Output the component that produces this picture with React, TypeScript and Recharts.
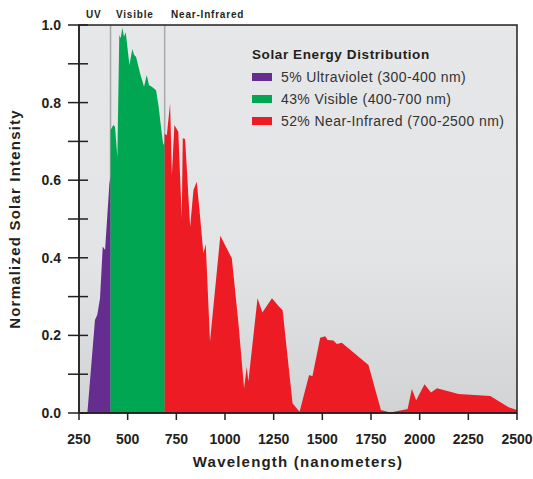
import React from 'react';
import {
  AreaChart,
  Area,
  XAxis,
  YAxis,
  CartesianGrid,
  ReferenceArea,
} from 'recharts';

// wavelengths (nm) and normalized intensity
const uvNm = [293, 332, 344, 358, 372, 384, 406, 412];
const uvVal = [0, 0.24, 0.253, 0.296, 0.429, 0.42, 0.59, 0.61];

const visNm = [412, 426, 435, 447, 457, 464, 473, 481, 490, 509, 524, 533, 543, 564, 584, 598, 610, 624, 646, 658, 670, 683, 690];
const visVal = [0.729, 0.742, 0.738, 0.66, 0.974, 0.966, 0.993, 0.97, 0.981, 0.897, 0.938, 0.923, 0.918, 0.875, 0.841, 0.871, 0.845, 0.841, 0.832, 0.794, 0.742, 0.69, 0.7];

const nirNm = [690, 701, 718, 727, 740, 760, 778, 783, 795, 821, 838, 855, 872, 889, 901, 923, 976, 1000, 1035, 1069, 1098, 1112, 1120, 1167, 1192, 1241, 1275, 1296, 1347, 1383, 1432, 1449, 1489, 1515, 1527, 1557, 1575, 1600, 1737, 1801, 1849, 1938, 1960, 1982, 2025, 2058, 2089, 2200, 2363, 2457, 2500];
const nirVal = [0.72, 0.716, 0.798, 0.613, 0.742, 0.725, 0.502, 0.708, 0.706, 0.48, 0.575, 0.596, 0.506, 0.412, 0.435, 0.184, 0.457, 0.433, 0.399, 0.231, 0.064, 0.119, 0.081, 0.296, 0.259, 0.296, 0.276, 0.265, 0.025, 0.003, 0.098, 0.095, 0.194, 0.198, 0.188, 0.187, 0.178, 0.181, 0.124, 0.008, 0.001, 0.01, 0.062, 0.033, 0.074, 0.053, 0.064, 0.049, 0.044, 0.015, 0.008];

const xTicks = [250, 500, 750, 1000, 1250, 1500, 1750, 2000, 2250, 2500];
const yTicks = [0, 0.1, 0.2, 0.3, 0.4, 0.5, 0.6, 0.7, 0.8, 0.9, 1.0];
const bandEdges = [412, 690];

const legendItems = [
  { label: '5% Ultraviolet (300-400 nm)', color: '#662d91' },
  { label: '43% Visible (400-700 nm)', color: '#00a651' },
  { label: '52% Near-Infrared (700-2500 nm)', color: '#ed1c24' },
];

// merge the three bands into one table keyed by wavelength
const buildTable = () => {
  const rows: Record<number, any> = {};
  const add = (nms: number[], vals: number[], key: string) => {
    nms.forEach((nm, i) => {
      if (!rows[nm]) rows[nm] = { nm, uv: null, vis: null, nir: null };
      rows[nm][key] = vals[i];
    });
  };
  add(uvNm, uvVal, 'uv');
  add(visNm, visVal, 'vis');
  add(nirNm, nirVal, 'nir');
  return Object.values(rows).sort((a: any, b: any) => a.nm - b.nm);
};

const data = buildTable();
const FONT = '"Liberation Sans", Arial, Helvetica, sans-serif';
const INK = '#231f20';

const YTick = (props: any) => {
  const { x, y, payload } = props;
  const major = Math.round(payload.value * 10) % 2 === 0;
  return (
    <g>
      <line x1={x - 11} x2={x + 9} y1={y} y2={y} stroke={INK} strokeWidth={1.5} />
      {major && (
        <text x={x - 18} y={y} dy={5} textAnchor="end" fill={INK} fontSize={14} fontWeight="bold" fontFamily={FONT}>
          {payload.value.toFixed(1)}
        </text>
      )}
    </g>
  );
};

export default function App() {
  return (
    <div style={{ position: 'absolute', left: 0, top: 0, width: 533, height: 479, background: '#fff' }}>
      <AreaChart width={533} height={479} data={data} margin={{ top: 25, right: 16, bottom: 0, left: 0 }}>
        <defs>
          <linearGradient id="bg" x1="0" y1="0" x2="0" y2="1">
            <stop offset="0%" stopColor="#e6e7e8" />
            <stop offset="60%" stopColor="#e3e4e6" />
            <stop offset="100%" stopColor="#d2d3d5" />
          </linearGradient>
        </defs>
        <CartesianGrid
          horizontal={false}
          vertical
          verticalValues={bandEdges}
          stroke="#a7a9ac"
          strokeWidth={1.5}
          fill="url(#bg)"
        />
        <XAxis
          type="number"
          dataKey="nm"
          domain={[250, 2500]}
          ticks={xTicks}
          allowDataOverflow
          height={66}
          tickSize={7}
          tickMargin={14}
          axisLine={{ stroke: INK, strokeWidth: 1.5 }}
          tickLine={{ stroke: INK, strokeWidth: 1.5 }}
          tick={{ fill: INK, fontSize: 14, fontWeight: 'bold', fontFamily: FONT }}
          label={{
            value: 'Wavelength (nanometers)',
            position: 'insideBottom',
            offset: 12,
            style: { fill: INK, fontSize: 15, fontWeight: 'bold', fontFamily: FONT, letterSpacing: 1.2 },
          }}
        />
        <YAxis
          type="number"
          domain={[0, 1]}
          ticks={yTicks}
          width={79}
          tickSize={0}
          tickMargin={0}
          tickLine={false}
          axisLine={{ stroke: INK, strokeWidth: 1.5 }}
          tick={YTick}
          label={{
            value: 'Normalized Solar Intensity',
            angle: -90,
            position: 'insideLeft',
            offset: 15,
            style: { textAnchor: 'middle', fill: INK, fontSize: 15, fontWeight: 'bold', fontFamily: FONT, letterSpacing: 1.2 },
          }}
        />
        <Area type="linear" dataKey="uv" fill="#662d91" fillOpacity={1} stroke="none" dot={false} activeDot={false} isAnimationActive={false} />
        <Area type="linear" dataKey="vis" fill="#00a651" fillOpacity={1} stroke="none" dot={false} activeDot={false} isAnimationActive={false} />
        <Area type="linear" dataKey="nir" fill="#ed1c24" fillOpacity={1} stroke="none" dot={false} activeDot={false} isAnimationActive={false} />
        <ReferenceArea x1={250} x2={2500} y1={0} y2={1} fill="none" stroke={INK} strokeWidth={1.5} />
      </AreaChart>

      <svg width={533} height={25} style={{ position: 'absolute', left: 0, top: 0 }}>
        <g fill={INK} fontSize={10} fontWeight="bold" fontFamily={FONT} letterSpacing={0.8}>
          <text x={86} y={18}>UV</text>
          <text x={116} y={18}>Visible</text>
          <text x={171} y={18}>Near-Infrared</text>
        </g>
      </svg>

      <div style={{ position: 'absolute', left: 252, top: 47, fontFamily: FONT, color: INK }}>
        <div style={{ fontSize: 13.5, fontWeight: 'bold', letterSpacing: 0.6, lineHeight: '16px', marginBottom: 3 }}>
          Solar Energy Distribution
        </div>
        {legendItems.map((it) => (
          <div key={it.label} style={{ display: 'flex', alignItems: 'center', height: 22 }}>
            <span style={{ display: 'inline-block', width: 20, height: 8, background: it.color, marginRight: 9 }} />
            <span style={{ fontSize: 14, letterSpacing: 0.4, color: '#333' }}>{it.label}</span>
          </div>
        ))}
      </div>
    </div>
  );
}
